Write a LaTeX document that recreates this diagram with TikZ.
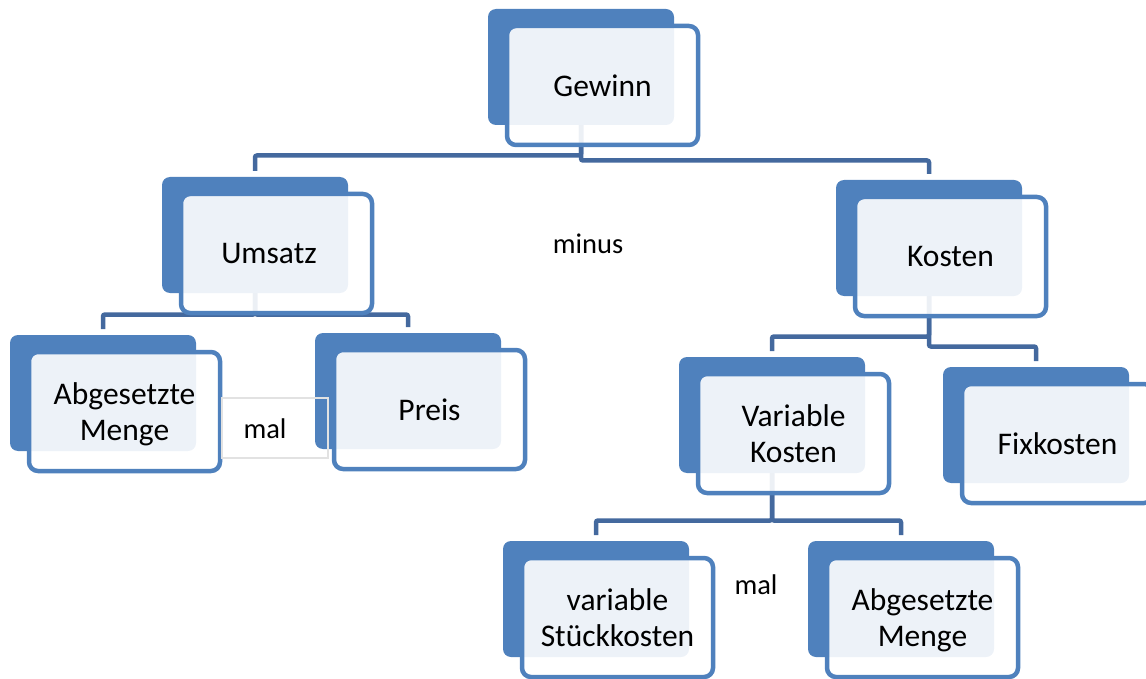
\documentclass[tikz,border=0pt]{standalone}
\usepackage{fontspec}
\setmainfont{Carlito}
\definecolor{boxblue}{HTML}{4F81BD}
\definecolor{connblue}{HTML}{44699E}
\definecolor{malgray}{HTML}{E2E2E2}
\pgfdeclarelayer{background}
\pgfsetlayers{background,main}
\begin{document}
\begin{tikzpicture}[x=1pt,y=-1pt,
  backbox/.style={fill=boxblue, rounded corners=8pt, minimum width=186pt, minimum height=116pt,
    anchor=north west, inner sep=0pt, outer sep=0pt},
  frontbox/.style={draw=boxblue, line width=4.5pt, fill=white, fill opacity=0.9, text opacity=1,
    rounded corners=9pt, minimum width=191pt, minimum height=119pt, anchor=north west,
    inner sep=0pt, outer sep=0pt, align=center, text depth=0pt,
    font=\fontsize{31.5}{36}\selectfont},
  conn/.style={draw=connblue, line width=4.5pt, rounded corners=2pt},
  optext/.style={font=\fontsize{28.5}{34}\selectfont, inner sep=0pt}]
\useasboundingbox (0,0) rectangle (1146,679);

% back boxes
\node[backbox] (G-b) at (488,9) {};
\node[backbox] (U-b) at (162,177) {};
\node[backbox] (K-b) at (836,180) {};
\node[backbox] (AL-b) at (10,335) {};
\node[backbox] (P-b) at (315,333) {};
\node[backbox] (VK-b) at (679,357) {};
\node[backbox] (F-b) at (943,367) {};
\node[backbox] (VS-b) at (503,541) {};
\node[backbox] (AR-b) at (808,541) {};

% connectors behind the boxes
\begin{pgfonlayer}{background}
\draw[conn] (G-b.south) |- (U-b.north |- 0,155.5) -- ([yshift=6pt]U-b.north);
\draw[conn] (G-b.south) |- (K-b.north |- 0,160.5) -- ([yshift=6pt]K-b.north);
\draw[conn] (U-b.south) |- (AL-b.north |- 0,314.5) -- ([yshift=6pt]AL-b.north);
\draw[conn] (U-b.south) |- (P-b.north |- 0,314.5) -- ([yshift=6pt]P-b.north);
\draw[conn] (K-b.south) |- (VK-b.north |- 0,336.5) -- ([yshift=6pt]VK-b.north);
\draw[conn] (K-b.south) |- (F-b.north |- 0,346.5) -- ([yshift=6pt]F-b.north);
\draw[conn] (VK-b.south) |- (VS-b.north |- 0,520.5) -- ([yshift=6pt]VS-b.north);
\draw[conn] (VK-b.south) |- (AR-b.north |- 0,520.5) -- ([yshift=6pt]AR-b.north);
\end{pgfonlayer}

% front boxes
\node[frontbox] (G) at (507,26) {Gewinn};
\node[frontbox] (U) at (181,194) {Umsatz\hspace*{15pt}};
\node[frontbox] (K) at (855,197) {Kosten};
\node[frontbox] (AL) at (29,352) {Abgesetzte\\Menge};
\node[frontbox] (P) at (334,350) {Preis};
\node[frontbox] (VK) at (698,374) {Variable\\Kosten};
\node[frontbox] (F) at (962,384) {Fixkosten};
\node[frontbox] (VS) at (522,558) {variable\\Stückkosten};
\node[frontbox] (AR) at (827,558) {Abgesetzte\\Menge};

% mal frame (unfilled, on top)
\node[draw=malgray, line width=1.5pt, minimum width=106pt, minimum height=60pt,
      inner sep=0pt, anchor=north west] (malbox) at (221,397) {};

% operator labels
\node[optext] (minus) at (588,244) {minus};
\node[optext] (mal1) at (265,429) {mal};
\node[optext] (mal2) at (756,585) {mal};
\end{tikzpicture}
\end{document}
